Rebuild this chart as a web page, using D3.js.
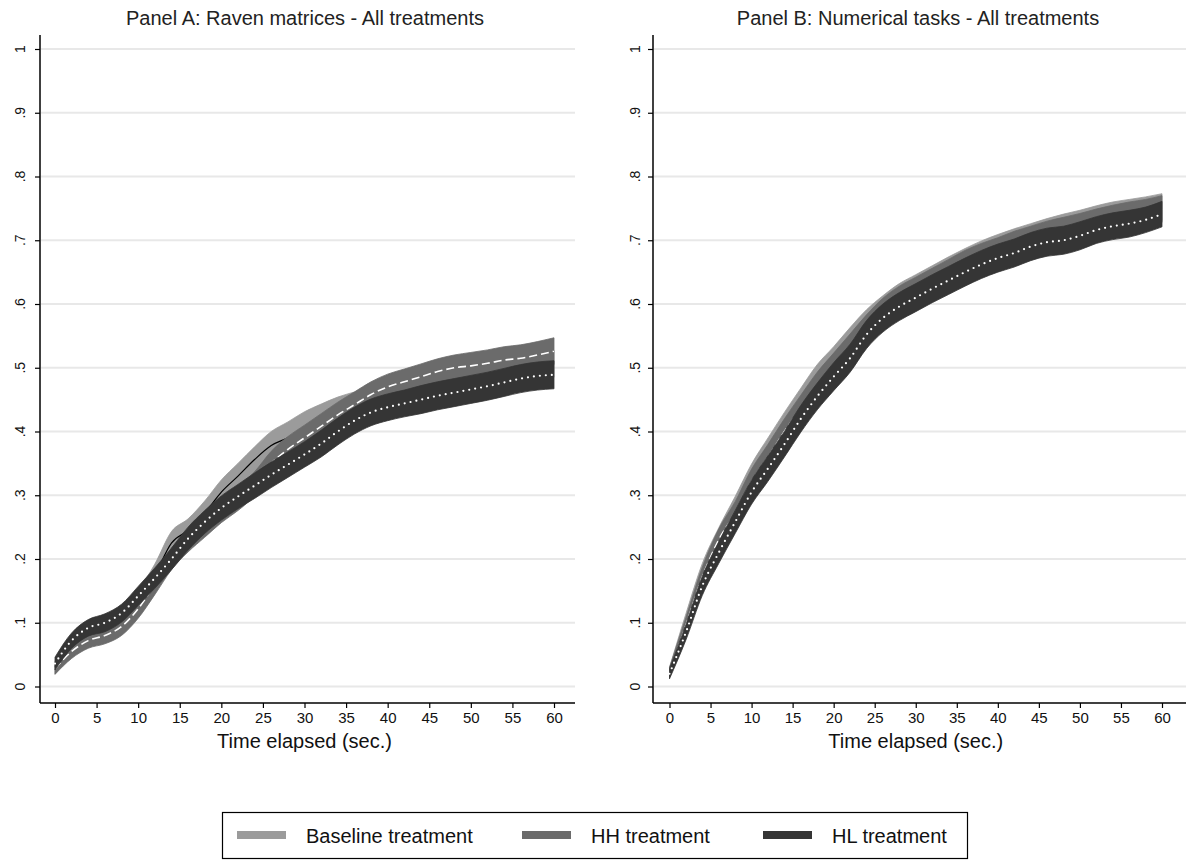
<!DOCTYPE html>
<html><head><meta charset="utf-8">
<script src="https://cdn.jsdelivr.net/npm/d3@7/dist/d3.min.js"></script>
<style>body{margin:0;background:#fff;}svg{display:block;font-family:"Liberation Sans",Arial,sans-serif;}</style>
</head><body><svg id="c" width="1187" height="860"></svg>
<script>
const times = [0,2,4,6,8,10,12,14,16,18,20,22,24,26,28,30,32,34,36,38,40,42,44,46,48,50,52,54,56,58,60];
const xTicks = [0,5,10,15,20,25,30,35,40,45,50,55,60];
const yTicks = [0,0.1,0.2,0.3,0.4,0.5,0.6,0.7,0.8,0.9,1];
const yTickLabels = ["0",".1",".2",".3",".4",".5",".6",".7",".8",".9","1"];
const seriesNames = ["Baseline treatment","HH treatment","HL treatment"];
const panelTitles = ["Panel A: Raven matrices - All treatments","Panel B: Numerical tasks - All treatments"];

// Panel A
const aBaseMean = [0.030,0.060,0.078,0.088,0.105,0.135,0.175,0.225,0.245,0.272,0.305,0.330,0.356,0.378,0.390,0.404,0.416,0.428,0.440,0.450,0.458,0.464,0.470,0.475,0.480,0.485,0.490,0.494,0.498,0.502,0.506];
const aBaseCI   = [0.010,0.012,0.013,0.014,0.015,0.016,0.017,0.018,0.018,0.019,0.019,0.020,0.020,0.022,0.025,0.027,0.027,0.026,0.022,0.020,0.020,0.020,0.020,0.020,0.020,0.021,0.021,0.021,0.021,0.021,0.021];
const aHHMean   = [0.028,0.055,0.072,0.080,0.094,0.122,0.160,0.200,0.228,0.252,0.275,0.295,0.318,0.350,0.372,0.390,0.408,0.426,0.442,0.458,0.470,0.478,0.486,0.494,0.500,0.503,0.507,0.512,0.515,0.520,0.526];
const aHHCI     = [0.009,0.011,0.012,0.013,0.014,0.015,0.016,0.017,0.017,0.018,0.018,0.019,0.019,0.019,0.020,0.020,0.020,0.020,0.020,0.020,0.020,0.020,0.020,0.020,0.020,0.021,0.021,0.021,0.021,0.021,0.021];
const aHLMean   = [0.036,0.072,0.092,0.100,0.115,0.142,0.170,0.200,0.232,0.258,0.280,0.298,0.315,0.332,0.348,0.364,0.381,0.400,0.417,0.430,0.438,0.444,0.450,0.456,0.461,0.466,0.471,0.477,0.483,0.487,0.489];
const aHLCI     = [0.010,0.012,0.013,0.014,0.014,0.015,0.016,0.017,0.018,0.018,0.019,0.019,0.020,0.020,0.020,0.020,0.021,0.021,0.021,0.021,0.021,0.021,0.022,0.022,0.022,0.022,0.022,0.022,0.022,0.022,0.022];

// Panel B
const bBaseMean = [0.022,0.102,0.178,0.232,0.280,0.330,0.370,0.410,0.448,0.484,0.512,0.542,0.570,0.592,0.611,0.625,0.639,0.653,0.666,0.678,0.688,0.697,0.705,0.713,0.720,0.726,0.733,0.739,0.743,0.747,0.752];
const bBaseCI   = [0.008,0.012,0.015,0.017,0.018,0.019,0.020,0.020,0.020,0.021,0.021,0.021,0.021,0.021,0.021,0.021,0.021,0.021,0.021,0.021,0.021,0.021,0.021,0.021,0.021,0.021,0.021,0.021,0.021,0.021,0.021];
const bHHMean   = [0.022,0.096,0.172,0.230,0.272,0.322,0.360,0.400,0.437,0.472,0.502,0.532,0.562,0.588,0.607,0.621,0.635,0.649,0.663,0.674,0.683,0.693,0.701,0.709,0.715,0.721,0.728,0.734,0.739,0.743,0.749];
const bHHCI     = [0.008,0.012,0.015,0.017,0.018,0.019,0.020,0.020,0.020,0.021,0.021,0.021,0.021,0.021,0.021,0.021,0.021,0.021,0.021,0.021,0.021,0.021,0.021,0.021,0.021,0.021,0.021,0.021,0.021,0.021,0.021];
const bHLMean   = [0.020,0.085,0.158,0.210,0.258,0.305,0.342,0.380,0.420,0.455,0.486,0.515,0.552,0.578,0.596,0.610,0.624,0.637,0.650,0.662,0.672,0.680,0.690,0.697,0.700,0.707,0.716,0.722,0.726,0.732,0.741];
const bHLCI     = [0.008,0.012,0.015,0.017,0.018,0.019,0.020,0.020,0.021,0.021,0.022,0.022,0.022,0.022,0.022,0.022,0.022,0.022,0.022,0.022,0.022,0.022,0.022,0.022,0.022,0.022,0.021,0.021,0.021,0.020,0.020];

const colors = ["#9b9b9b","#6b6b6b","#353535"];

const svg = d3.select("#c");

const panels = [
  {title: panelTitles[0], left: 40, right: 575, x0: 55, x60: 554, labelX: 20, titleX: 305,
   series: [[aBaseMean,aBaseCI],[aHHMean,aHHCI],[aHLMean,aHLCI]]},
  {title: panelTitles[1], left: 653, right: 1186, x0: 669.5, x60: 1162, labelX: 635, titleX: 918,
   series: [[bBaseMean,bBaseCI],[bHHMean,bHHCI],[bHLMean,bHLCI]]}
];

const yTop = 35, yBot = 703;
const y = d3.scaleLinear().domain([0,1]).range([686.5,49]);

panels.forEach(p => {
  const x = d3.scaleLinear().domain([0,60]).range([p.x0,p.x60]);
  const g = svg.append("g");
  g.selectAll("line.grid").data(yTicks).join("line")
    .attr("x1", p.left+1).attr("x2", p.right)
    .attr("y1", d=>y(d)).attr("y2", d=>y(d))
    .attr("stroke","#e8e8e8").attr("stroke-width",2);
  const yAx = g.append("g").attr("transform",`translate(${p.left},0)`)
    .call(d3.axisLeft(y).tickValues(yTicks).tickSize(5).tickFormat(""));
  yAx.select(".domain").remove();
  yAx.selectAll("line").attr("stroke","#000").attr("stroke-width",1.2);
  g.append("line").attr("x1",p.left).attr("x2",p.left).attr("y1",yTop).attr("y2",yBot)
    .attr("stroke","#000").attr("stroke-width",1.5);
  g.selectAll("text.ylab").data(yTicks).join("text")
    .attr("transform", (d)=>`translate(${p.labelX+5},${y(d)}) rotate(-90)`)
    .attr("text-anchor","middle").attr("font-size",14).attr("fill","#111")
    .text((d,i)=>yTickLabels[i]);
  const xAx = g.append("g").attr("transform",`translate(0,${yBot})`)
    .call(d3.axisBottom(x).tickValues(xTicks).tickSize(5).tickPadding(4));
  xAx.select(".domain").remove();
  xAx.selectAll("line").attr("stroke","#000").attr("stroke-width",1.2);
  xAx.selectAll("text").attr("font-size",15).attr("fill","#111").attr("font-family","Liberation Sans, Arial, sans-serif");
  g.append("line").attr("x1",p.left).attr("x2",p.right).attr("y1",yBot).attr("y2",yBot)
    .attr("stroke","#000").attr("stroke-width",1.5);
  g.append("text").attr("x",(p.x0+p.x60)/2).attr("y",748).attr("text-anchor","middle")
    .attr("font-size",20).attr("fill","#111").text("Time elapsed (sec.)");
  g.append("text").attr("x",p.titleX).attr("y",25).attr("text-anchor","middle")
    .attr("font-size",20).attr("fill","#222").text(p.title);

  p.series.forEach((s,k) => {
    const [m,ci] = s;
    const data = times.map((t,i)=>({t, m:m[i], lo:m[i]-ci[i], hi:m[i]+ci[i]}));
    const area = d3.area().x(d=>x(d.t)).y0(d=>y(d.lo)).y1(d=>y(d.hi)).curve(d3.curveMonotoneX);
    g.append("path").datum(data).attr("d",area).attr("fill",colors[k])
      .attr("stroke",colors[k]).attr("stroke-width",0.8);
    const line = d3.line().x(d=>x(d.t)).y(d=>y(d.m)).curve(d3.curveMonotoneX);
    const ln = g.append("path").datum(data).attr("d",line).attr("fill","none");
    if (k===0) ln.attr("stroke","#000").attr("stroke-width",1.2);
    if (k===1) ln.attr("stroke","#fff").attr("stroke-width",1.6).attr("stroke-dasharray","8,4");
    if (k===2) ln.attr("stroke","#fff").attr("stroke-width",2.2).attr("stroke-linecap","round").attr("stroke-dasharray","0,6");
  });
});

const lg = svg.append("g");
lg.append("rect").attr("x",222.5).attr("y",812.5).attr("width",745).attr("height",46)
  .attr("fill","#fff").attr("stroke","#000").attr("stroke-width",1.2);
const legX = [237,522,763];
seriesNames.forEach((n,i)=>{
  lg.append("rect").attr("x",legX[i]).attr("y",831).attr("width",49).attr("height",8).attr("fill",colors[i]);
  lg.append("text").attr("x",legX[i]+69).attr("y",843).attr("font-size",20).attr("fill","#111").text(n);
});
</script></body></html>
